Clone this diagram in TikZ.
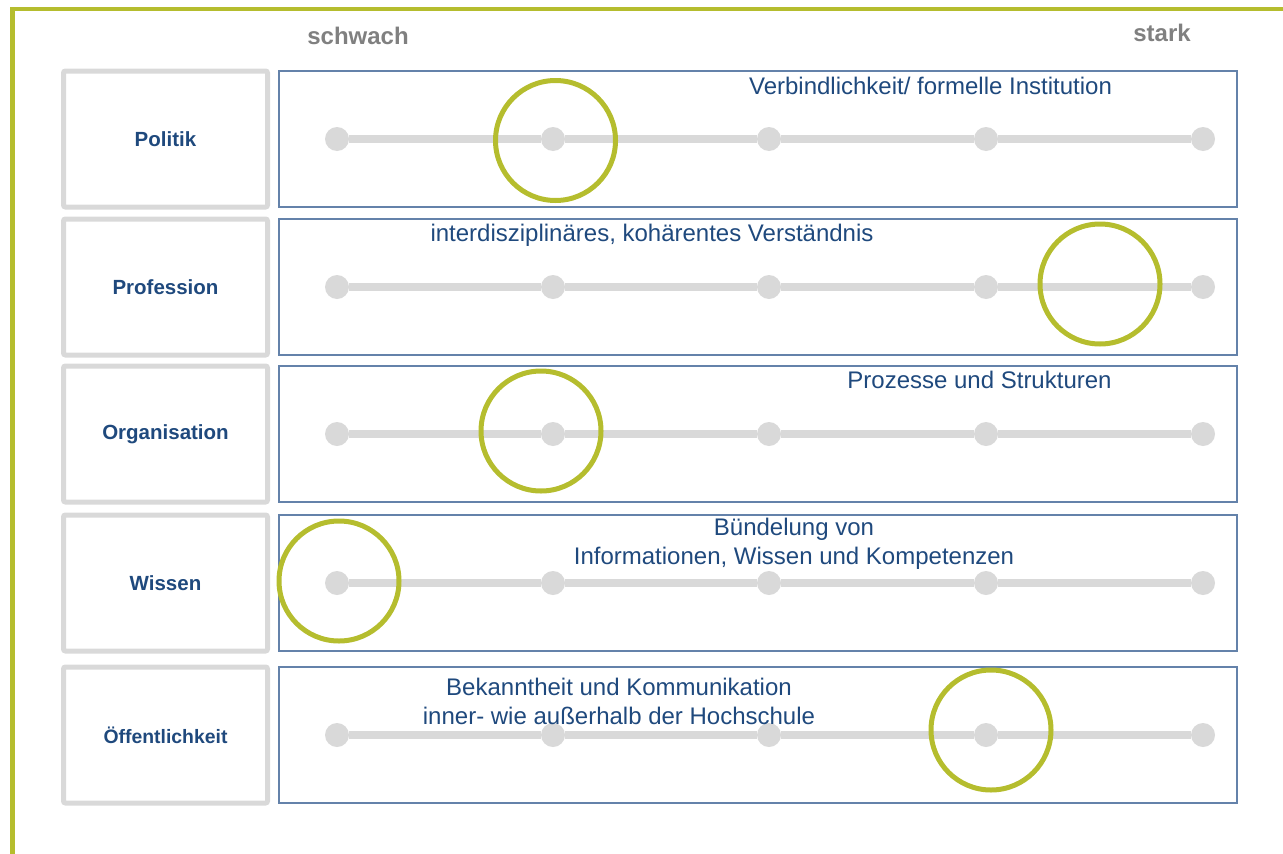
\documentclass[tikz,border=0pt]{standalone}
\usepackage{fontspec}
\setmainfont{Liberation Sans}
\usetikzlibrary{positioning}
\definecolor{navy}{RGB}{31,73,125}
\definecolor{olive}{RGB}{181,189,46}
\definecolor{track}{RGB}{217,217,217}
\definecolor{barline}{RGB}{100,130,170}
\definecolor{axisgray}{RGB}{128,128,128}

\begin{document}
\begin{tikzpicture}[x=1pt, y=-1pt,
  lbl/.style={draw=track, line width=5pt, rounded corners=2pt, minimum width=204pt, minimum height=136pt, text=navy, font=\fontsize{20.5}{24}\selectfont\bfseries},
  bar/.style={draw=barline, line width=1.2pt, minimum width=958pt, minimum height=136pt}]
\tikzstyle{dot}=[circle, fill=track, inner sep=0pt, minimum size=24pt]
\tikzstyle{ring}=[circle, draw=olive, line width=5pt, inner sep=0pt, minimum size=120pt]
\tikzstyle{caption}=[text=navy, align=center, inner sep=0pt, anchor=base, font=\fontsize{24}{29}\selectfont]
\tikzstyle{axislbl}=[text=axisgray, inner sep=0pt, anchor=base, font=\fontsize{24}{29}\selectfont\bfseries]
\clip (0,0) rectangle (1283,854);
\draw[olive, line width=4.5pt] (12.5,9) rectangle (1330,900);
\node[axislbl] (weak) at (358,44) {schwach};
\node[axislbl] (strong) at (1162,41) {stark};
\foreach \r/\y/\txt in {pol/139/Politik, pro/287/Profession, org/434/Organisation, wis/583/Wissen, oef/735/{\fontsize{19.4}{23}\selectfont Öffentlichkeit}}{
  \node[lbl] (\r-l) at (165.5,\y) {\txt};
  \node[bar] (\r-b) at (758,\y) {};
  \foreach \i/\x in {1/337,2/553,3/769,4/986,5/1203}{\node[dot] (\r-\i) at (\x,\y) {};}
  \draw[track, line width=8pt] (\r-1) -- (\r-2) -- (\r-3) -- (\r-4) -- (\r-5);
}
\node[ring] (pol-r) at (555.5,140.5) {};
\node[ring] (pro-r) at (1100,284) {};
\node[ring] (org-r) at (541,431) {};
\node[ring] (wis-r) at (339,581) {};
\node[ring] (oef-r) at (991,730) {};
\node[caption] (pol-t) at (930.5,94) {Verbindlichkeit/ formelle Institution};
\node[caption] (pro-t) at (652,241) {interdisziplinäres, kohärentes Verständnis};
\node[caption] (org-t) at (979.5,388) {Prozesse und Strukturen};
\node[caption] (wis-t) at (794,564) {Bündelung von\\Informationen, Wissen und Kompetenzen};
\node[caption] (oef-t) at (619,724) {Bekanntheit und Kommunikation\\inner- wie außerhalb der Hochschule};
\end{tikzpicture}
\end{document}
